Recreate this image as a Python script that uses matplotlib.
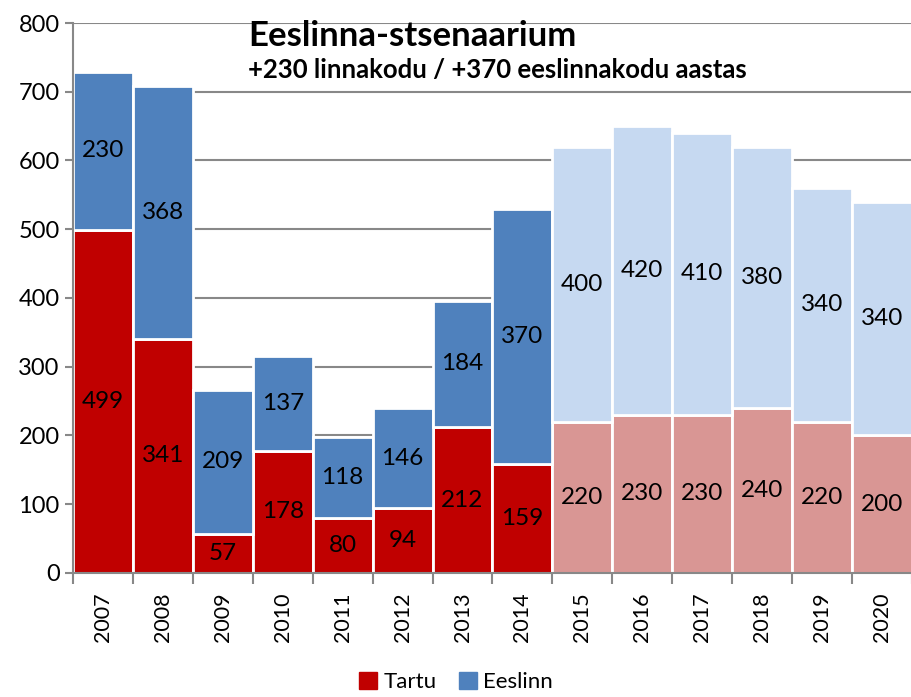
import numpy as np
import matplotlib.pyplot as plt

plt.rcParams['font.family'] = ['Lato', 'DejaVu Sans']

years = ["2007", "2008", "2009", "2010", "2011", "2012", "2013",
         "2014", "2015", "2016", "2017", "2018", "2019", "2020"]
tartu = [499, 341, 57, 178, 80, 94, 212, 159, 220, 230, 230, 240, 220, 200]
eeslinn = [230, 368, 209, 137, 118, 146, 184, 370, 400, 420, 410, 380, 340, 340]
first_forecast = 8  # 2015 onwards is projected

red, blue = "#C00000", "#4F81BD"
red_light, blue_light = "#D99694", "#C6D9F1"

x = np.arange(len(years))
tartu_cols = [red if i < first_forecast else red_light for i in x]
eeslinn_cols = [blue if i < first_forecast else blue_light for i in x]

fig = plt.figure(figsize=(9.12, 6.97), dpi=100)
ax = fig.add_axes([0.080, 0.178, 0.920, 0.789])

ax.bar(x, tartu, width=1.0, color=tartu_cols, edgecolor="white",
       linewidth=2, label="Tartu", zorder=2)
ax.bar(x, eeslinn, width=1.0, bottom=tartu, color=eeslinn_cols,
       edgecolor="white", linewidth=2, label="Eeslinn", zorder=2)

for i in x:
    ax.text(i, tartu[i] / 2, str(tartu[i]), ha="center", va="center",
            fontsize=17.5, zorder=3)
    ax.text(i, tartu[i] + eeslinn[i] / 2, str(eeslinn[i]), ha="center",
            va="center", fontsize=17.5, zorder=3)

ax.set_xlim(-0.5, len(years) - 0.5)
ax.set_ylim(0, 800)
ax.set_yticks(range(0, 801, 100))
ax.tick_params(axis="y", labelsize=17, length=6, width=1.5, color="#888888")
ax.set_xticks(x)
ax.set_xticklabels(years, rotation=90, fontsize=15.5)
ax.tick_params(axis="x", length=0, pad=14)
ax.set_xticks(np.arange(-0.5, len(years), 1.0), minor=True)
ax.tick_params(axis="x", which="minor", length=8, width=1.5, color="#888888")

ax.yaxis.grid(True, color="#888888", linewidth=1.5, zorder=0)
ax.set_axisbelow(True)
for s in ["top", "right"]:
    ax.spines[s].set_visible(False)
for s in ["left", "bottom"]:
    ax.spines[s].set_color("#888888")
    ax.spines[s].set_linewidth(1.5)

fig.text(0.272, 0.934, "Eeslinna-stsenaarium", fontsize=25,
         fontweight="bold")
fig.text(0.272, 0.888, "+230 linnakodu / +370 eeslinnakodu aastas",
         fontsize=18.5, fontweight="bold")

handles = [plt.Rectangle((0, 0), 1, 1, color=red),
           plt.Rectangle((0, 0), 1, 1, color=blue)]
fig.legend(handles, ["Tartu", "Eeslinn"], loc="lower center",
           bbox_to_anchor=(0.5, -0.022), ncol=2, frameon=False, fontsize=16,
           handlelength=0.8, handleheight=0.8, handletextpad=0.3,
           columnspacing=1.0)

fig.savefig("out.png", dpi=100)
